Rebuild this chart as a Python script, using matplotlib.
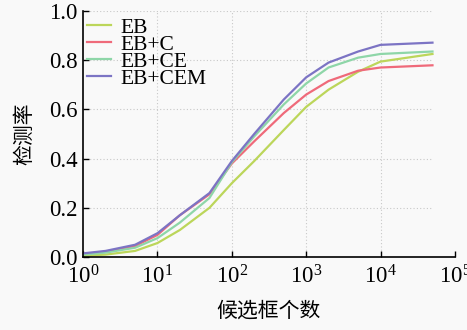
import matplotlib
matplotlib.use("Agg")
import matplotlib.pyplot as plt

plt.rcParams['font.family'] = ['Liberation Serif', 'Noto Sans CJK SC']
plt.rcParams['mathtext.fontset'] = 'custom'
plt.rcParams['mathtext.rm'] = 'Liberation Serif'

# number of candidate boxes
n_boxes = [1, 2, 5, 10, 20, 50, 100, 200, 500, 1000, 2000, 5000, 10000, 50000]

# detection rate per method
eb     = [0.005, 0.010, 0.025, 0.057, 0.11, 0.20, 0.30, 0.39, 0.516, 0.61, 0.68, 0.753, 0.794, 0.825]
eb_c   = [0.012, 0.022, 0.045, 0.090, 0.17, 0.255, 0.38, 0.47, 0.585, 0.66, 0.715, 0.757, 0.770, 0.779]
eb_ce  = [0.010, 0.018, 0.038, 0.077, 0.14, 0.24, 0.385, 0.49, 0.62, 0.705, 0.77, 0.81, 0.825, 0.835]
eb_cem = [0.015, 0.025, 0.050, 0.097, 0.17, 0.26, 0.39, 0.50, 0.64, 0.73, 0.79, 0.835, 0.862, 0.871]

labels = ['EB', 'EB+C', 'EB+CE', 'EB+CEM']
colors = ['#bcd65a', '#ef6a7a', '#8ed6a8', '#7c74c4']
series = [eb, eb_c, eb_ce, eb_cem]

x_ticks = [1, 10, 100, 1000, 10000, 100000]
x_ticklabels = [r'$\mathdefault{10^{%d}}$' % i for i in range(6)]
y_ticks = [0.0, 0.2, 0.4, 0.6, 0.8, 1.0]

fig = plt.figure(figsize=(4.67, 3.3), dpi=100, facecolor='#f9f9f9')
ax = fig.add_axes([0.178, 0.221, 0.796, 0.746])
ax.set_facecolor('#f9f9f9')

# grid (horizontal lines stop at the last data point, like the original)
ax.hlines(y_ticks[1:], n_boxes[0], n_boxes[-1], colors='#c8c8c8',
          linestyles=(0, (1, 2)), linewidth=0.8, zorder=0)
for xv in x_ticks[1:-1]:
    ax.axvline(xv, color='#c8c8c8', linestyle=(0, (1, 2)), linewidth=0.8, zorder=0)

for ys, lab, col in zip(series, labels, colors):
    ax.plot(n_boxes, ys, color=col, linewidth=1.6, label=lab)

ax.set_xscale('log')
ax.set_xlim(1, 1e5)
ax.set_ylim(0, 1.0)
ax.set_xticks(x_ticks)
ax.set_xticklabels(x_ticklabels)
ax.set_yticks(y_ticks)
ax.set_yticklabels([f'{v:.1f}' for v in y_ticks])
ax.minorticks_off()

ax.spines['top'].set_visible(False)
ax.spines['right'].set_visible(False)
ax.spines['left'].set_linewidth(1.2)
ax.spines['bottom'].set_linewidth(1.2)
ax.tick_params(direction='in', length=4, width=1.0, labelsize=16.5)
ax.tick_params(axis='x', pad=6)
ax.tick_params(axis='y', pad=4)

ax.set_xlabel('候选框个数', fontsize=15, family='Noto Sans CJK SC', labelpad=8)
ax.set_ylabel('检测率', fontsize=15, family='Noto Sans CJK SC', labelpad=10)

leg = ax.legend(loc='upper left', frameon=False, fontsize=15.5, handlelength=1.1,
                handletextpad=0.45, labelspacing=-0.14, borderaxespad=0.0,
                borderpad=0.2, bbox_to_anchor=(0.0, 0.99))

fig.savefig('out.png', dpi=100, facecolor=fig.get_facecolor())
